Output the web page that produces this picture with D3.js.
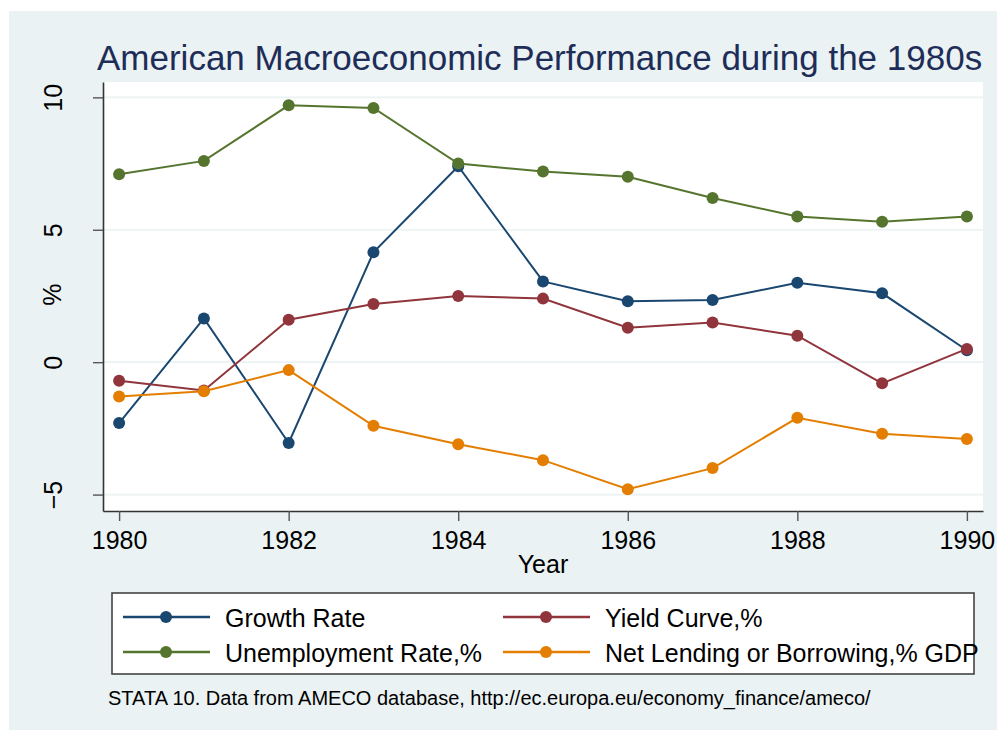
<!DOCTYPE html>
<html>
<head>
<meta charset="utf-8">
<script src="https://cdn.jsdelivr.net/npm/d3@7"></script>
<style>
  body { margin: 0; background: #fff; }
  svg { display: block; font-family: Arial, "Liberation Sans", sans-serif; }
</style>
</head>
<body>
<svg id="chart" width="997" height="730"></svg>
<script>
/* American macro performance, 1980s (Stata style line plot) */
const years = [1980, 1981, 1982, 1983, 1984, 1985, 1986, 1987, 1988, 1989, 1990]
const growth = [-2.3, 1.65, -3.05, 4.15, 7.4, 3.05, 2.3, 2.35, 3.0, 2.6, 0.45]
const yieldCurve = [-0.7, -1.07, 1.6, 2.2, 2.5, 2.4, 1.3, 1.5, 1.0, -0.8, 0.5]
const unemployment = [7.1, 7.6, 9.7, 9.6, 7.5, 7.2, 7.0, 6.2, 5.5, 5.3, 5.5]
const netLending = [-1.3, -1.1, -0.3, -2.4, -3.1, -3.7, -4.8, -4.0, -2.1, -2.7, -2.9]
const seriesNames = ['Growth Rate', 'Yield Curve,%', 'Unemployment Rate,%', 'Net Lending or Borrowing,% GDP']
const seriesColors = ['#1a476f', '#90353b', '#55752f', '#e37e00']
const xTicks = [1980, 1982, 1984, 1986, 1988, 1990]
const yTicks = [-5, 0, 5, 10]

const series = [growth, yieldCurve, unemployment, netLending].map((vals, i) => ({
    name: seriesNames[i],
    color: seriesColors[i],
    values: vals.map((v, j) => ({ year: years[j], value: v }))
}))

const plot = { left: 103, right: 983, top: 82, bottom: 511 }
const svg = d3.select('#chart')

// graph region
svg.append('rect')
    .attr('x', 9).attr('y', 11)
    .attr('width', 988).attr('height', 719)
    .attr('fill', '#eaf2f3')

svg.append('rect')
    .attr('x', plot.left).attr('y', plot.top)
    .attr('width', plot.right - plot.left).attr('height', plot.bottom - plot.top)
    .attr('fill', '#fff')

const x = d3.scaleLinear()
    .domain([1979.81, 1990.19])
    .range([plot.left, plot.right])

const y = d3.scaleLinear()
    .domain([-5.62, 10.58])
    .range([plot.bottom, plot.top])

// gridlines
svg.append('g')
    .selectAll('line')
    .data(yTicks)
    .enter()
    .append('line')
    .attr('x1', plot.left).attr('x2', plot.right)
    .attr('y1', d => y(d)).attr('y2', d => y(d))
    .attr('stroke', '#eaf2f3')
    .attr('stroke-width', 1.6)

// axes
const xAxis = d3.axisBottom(x)
    .tickValues(xTicks)
    .tickFormat(d3.format('d'))
    .tickSize(10)
    .tickSizeOuter(0)
    .tickPadding(10)

const yAxis = d3.axisLeft(y)
    .tickValues(yTicks)
    .tickSize(10)
    .tickSizeOuter(0)

const gx = svg.append('g')
    .attr('transform', `translate(0,${plot.bottom})`)
    .call(xAxis)
gx.select('.domain').attr('stroke', '#333').attr('stroke-width', 1.6)
gx.selectAll('.tick line').attr('stroke', '#555').attr('stroke-width', 1.4)
gx.selectAll('.tick text')
    .attr('font-size', 25).attr('fill', '#000')
    .attr('font-family', 'Arial, "Liberation Sans", sans-serif')

const gy = svg.append('g')
    .attr('transform', `translate(${plot.left},0)`)
    .call(yAxis)
gy.select('.domain').attr('stroke', '#333').attr('stroke-width', 1.6)
gy.selectAll('.tick line').attr('stroke', '#555').attr('stroke-width', 1.4)
gy.selectAll('.tick text')
    .attr('font-size', 25).attr('fill', '#000')
    .attr('font-family', 'Arial, "Liberation Sans", sans-serif')
    .attr('x', 0).attr('dy', 0)
    .attr('text-anchor', 'middle')
    .attr('transform', 'translate(-41,0) rotate(-90)')

// axis titles
svg.append('text')
    .attr('x', (plot.left + plot.right) / 2).attr('y', 573)
    .attr('text-anchor', 'middle')
    .attr('font-size', 25)
    .text('Year')

svg.append('text')
    .attr('transform', `translate(61,${y(2.55)}) rotate(-90)`)
    .attr('text-anchor', 'middle')
    .attr('font-size', 25)
    .text('%')

// title
svg.append('text')
    .attr('x', 97).attr('y', 70)
    .attr('font-size', 35)
    .attr('fill', '#1e2d58')
    .text('American Macroeconomic Performance during the 1980s')

// lines + markers
const line = d3.line()
    .x(d => x(d.year))
    .y(d => y(d.value))

const layer = svg.selectAll('.series')
    .data(series)
    .enter()
    .append('g')
    .attr('class', 'series')

layer.append('path')
    .attr('d', d => line(d.values))
    .attr('fill', 'none')
    .attr('stroke', d => d.color)
    .attr('stroke-width', 2)

layer.selectAll('circle')
    .data(d => d.values.map(v => ({ ...v, color: d.color })))
    .enter()
    .append('circle')
    .attr('cx', d => x(d.year))
    .attr('cy', d => y(d.value))
    .attr('r', 6)
    .attr('fill', d => d.color)

// legend
svg.append('rect')
    .attr('x', 112).attr('y', 593)
    .attr('width', 862).attr('height', 81)
    .attr('fill', '#fff')
    .attr('stroke', '#444')
    .attr('stroke-width', 1.6)

const legX = [123, 503]
const legY = [617, 652]

// order: growth & yield on row 1, unemployment & net lending on row 2
const item = svg.selectAll('.legend-item')
    .data(series)
    .enter()
    .append('g')
    .attr('class', 'legend-item')
    .attr('transform', (d, i) => `translate(${legX[i % 2]},${legY[i < 2 ? 0 : 1]})`)

item.append('line')
    .attr('x1', 0).attr('x2', 87)
    .attr('stroke', d => d.color)
    .attr('stroke-width', 2.4)
item.append('circle')
    .attr('cx', 43).attr('r', 6)
    .attr('fill', d => d.color)
item.append('text')
    .attr('x', 102).attr('y', 10)
    .attr('font-size', 25)
    .text(d => d.name)

// note
svg.append('text')
    .attr('x', 108).attr('y', 705)
    .attr('font-size', 20)
    .text('STATA 10. Data from AMECO database, http://ec.europa.eu/economy_finance/ameco/')
</script>
</body>
</html>
